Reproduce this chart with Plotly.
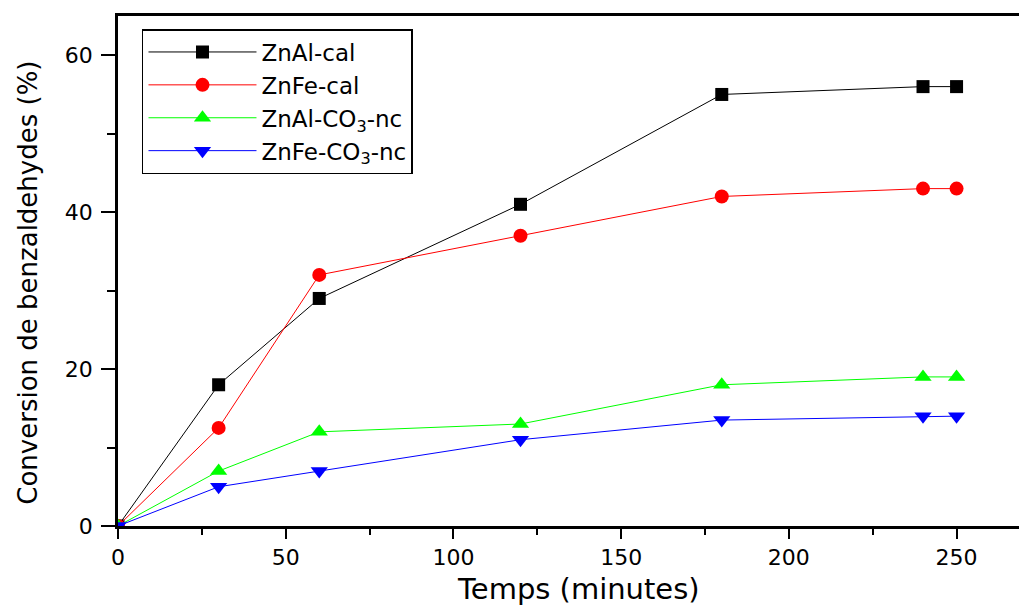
import plotly.graph_objects as go

time_min = [0, 30, 60, 120, 180, 240, 250]
znal_cal = [0, 18, 29, 41, 55, 56, 56]
znfe_cal = [0, 12.5, 32, 37, 42, 43, 43]
znal_co3 = [0, 7, 12, 13, 18, 19, 19]
znfe_co3 = [0, 5, 7, 11, 13.5, 14, 14]

series_names = ["ZnAl-cal", "ZnFe-cal", "ZnAl-CO<sub>3</sub>-nc", "ZnFe-CO<sub>3</sub>-nc"]
series_values = [znal_cal, znfe_cal, znal_co3, znfe_co3]
colors = ["#000000", "#ff0000", "#00ff00", "#0000ff"]
symbols = ["square", "circle", "triangle-up", "triangle-down"]
sizes = [13, 14, 15, 15]

x_title = "Temps (minutes)"
y_title = "Conversion de benzaldehydes (%)"

fig = go.Figure()
for name, vals, c, s, sz in zip(series_names, series_values, colors, symbols, sizes):
    fig.add_trace(go.Scatter(
        x=time_min, y=vals, name=name, mode="lines+markers",
        line=dict(color=c, width=1),
        marker=dict(color=c, symbol=s, size=sz, line=dict(width=0)),
    ))

font = "DejaVu Sans, Verdana, sans-serif"
fig.update_layout(
    width=1019, height=600,
    margin=dict(l=110, r=0, t=8, b=82, autoexpand=False),
    plot_bgcolor="white", paper_bgcolor="white",
    font=dict(family=font, color="black"),
    showlegend=True,
    legend=dict(
        x=0.0264, y=0.9745, xanchor="left", yanchor="top",
        bgcolor="white", bordercolor="black", borderwidth=1.5,
        font=dict(size=23, family=font, color="black"),
        itemwidth=108,
    ),
    xaxis=dict(
        range=[0, 271], showgrid=False, zeroline=False, automargin=False,
        showline=True, linecolor="black", linewidth=2.5, mirror=True,
        ticks="outside", ticklen=10, tickwidth=2, tickcolor="black",
        tickvals=[0, 50, 100, 150, 200, 250],
        tickfont=dict(size=22, family=font),
        minor=dict(dtick=25, tick0=0, ticks="outside", ticklen=6, tickwidth=2, tickcolor="black"),
    ),
    yaxis=dict(
        range=[0, 65], showgrid=False, zeroline=False, automargin=False,
        showline=True, linecolor="black", linewidth=2.5, mirror=False,
        ticks="outside", ticklen=14, tickwidth=2, tickcolor="black",
        tickvals=[0, 20, 40, 60],
        tickfont=dict(size=22, family=font), ticklabelstandoff=4,
        minor=dict(dtick=10, tick0=0, ticks="outside", ticklen=8, tickwidth=2, tickcolor="black"),
    ),
    annotations=[
        dict(text=x_title, xref="paper", yref="paper", x=0.507, y=0,
             xanchor="center", yanchor="middle", yshift=-63, showarrow=False,
             font=dict(size=29, family=font, color="black")),
        dict(text=y_title, xref="paper", yref="paper", x=0, y=0.477,
             xanchor="center", yanchor="middle", xshift=-90, textangle=-90, showarrow=False,
             font=dict(size=26, family=font, color="black")),
    ],
)

fig.write_html("out.html")
